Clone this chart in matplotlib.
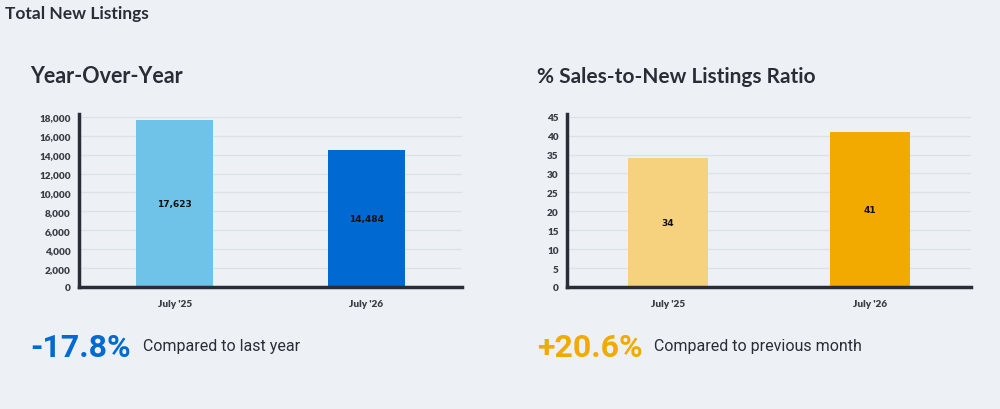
import matplotlib
matplotlib.use("Agg")
import matplotlib.pyplot as plt

# DATA
periods = ["July '25", "July '26"]
new_listings = [17623, 14484]
sales_ratio = [34, 41]
yoy_change = "-17.8%"
ratio_change = "+20.6%"

bg = "#edf1f5"
dark = "#2a2d36"
grid_c = "#dde2e8"

plt.rcParams['font.family'] = ['Lato', 'DejaVu Sans']

fig = plt.figure(figsize=(10, 4.1), dpi=100, facecolor=bg)


def style_axes(ax, ymax, ticks, fmt):
    ax.set_facecolor(bg)
    ax.set_xlim(-0.5, 1.5)
    ax.set_ylim(0, ymax)
    ax.set_yticks(ticks)
    ax.set_yticklabels([fmt(t) for t in ticks], fontsize=7.2, fontweight="heavy", color="#3a3d45")
    ax.set_xticks(range(len(periods)))
    ax.set_xticklabels(periods, fontsize=7.2, fontweight="heavy", color="#3a3d45")
    ax.tick_params(length=0, pad=6)
    ax.tick_params(axis="x", pad=9)
    ax.grid(axis="y", color=grid_c, linewidth=1)
    ax.set_axisbelow(True)
    for s in ["top", "right"]:
        ax.spines[s].set_visible(False)
    for s in ["left", "bottom"]:
        ax.spines[s].set_color(dark)
        ax.spines[s].set_linewidth(2.5)


# LEFT | YEAR-OVER-YEAR
ax1 = fig.add_axes([0.079, 0.2976, 0.383, 0.4219])
ax1.bar(range(len(periods)), new_listings, width=0.4, color=["#6fc3e8", "#0069d2"])
style_axes(ax1, 18300, range(0, 18001, 2000), lambda t: f"{t:,}")
for i, v in enumerate(new_listings):
    ax1.text(i, v / 2, f"{v:,}", ha="center", va="center", fontsize=6.5,
             fontweight="bold", color="#111", family="DejaVu Sans")

# RIGHT | SALES-TO-NEW LISTINGS RATIO
ax2 = fig.add_axes([0.567, 0.2976, 0.404, 0.4219])
ax2.bar(range(len(periods)), sales_ratio, width=0.4, color=["#f7d27e", "#f2a900"])
style_axes(ax2, 45.7, range(0, 46, 5), lambda t: f"{t}")
for i, v in enumerate(sales_ratio):
    ax2.text(i, v / 2, f"{v}", ha="center", va="center", fontsize=6.5,
             fontweight="bold", color="#111", family="DejaVu Sans")

# TITLES
fig.text(0.005, 1 - 14 / 410, "Total New Listings", fontsize=12.5, fontweight="bold", color=dark, va="center")
fig.text(0.030, 1 - 77 / 410, "Year-Over-Year", fontsize=15.5, fontweight="bold", color=dark, va="center")
fig.text(0.537, 1 - 77 / 410, "% Sales-to-New Listings Ratio", fontsize=15, fontweight="bold", color=dark, va="center")

# FOOTER
narrow = ['Roboto', 'DejaVu Sans']
fig.text(0.030, 1 - 348 / 410, yoy_change, fontsize=23, fontweight="bold", color="#0069d2", va="center", family=narrow)
fig.text(0.143, 1 - 347 / 410, "Compared to last year", fontsize=11.5, color=dark, va="center", family=narrow)
fig.text(0.537, 1 - 348 / 410, ratio_change, fontsize=23, fontweight="bold", color="#f2a900", va="center", family=narrow)
fig.text(0.654, 1 - 347 / 410, "Compared to previous month", fontsize=11.5, color=dark, va="center", family=narrow)

fig.savefig("out.png", dpi=100, facecolor=bg)
